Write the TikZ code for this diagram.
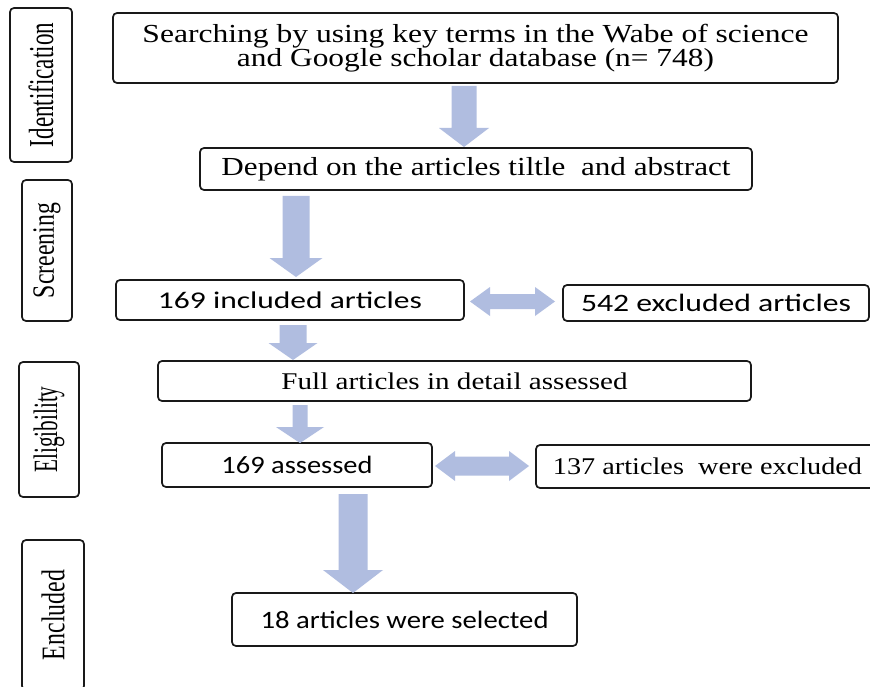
\documentclass[tikz,border=0pt]{standalone}
\usepackage{fontspec}
\usepackage{graphicx}
\setmainfont{Liberation Serif}
\newfontfamily\calib{Carlito}
\usetikzlibrary{calc}
\definecolor{arrowblue}{RGB}{176,189,224}
\newcommand{\fitw}[2]{\resizebox{#1}{\height}{#2}}
\newcommand{\fs}[1]{\fontsize{#1}{#1}\selectfont}
\tikzset{
  box/.style={draw=black!90, line width=1.7pt, rounded corners=4pt, inner sep=0pt, outer sep=0pt, anchor=north west, align=center},
  sidebox/.style={box, rotate=90, anchor=center},
  blkarrow/.style={fill=arrowblue, draw=none}
}
% down block arrow: #1 from node, #2 to node, #3 x, #4 shaft half width, #5 head half width, #6 head length, #7 top gap, #8 tip gap
\newcommand{\blkdown}[8]{%
  \fill[blkarrow] let \p1=(#1.south), \p2=(#2.north) in
   ({#3pt-#4pt},{\y1-#7pt}) -- ({#3pt+#4pt},{\y1-#7pt}) -- ({#3pt+#4pt},{\y2+#8pt+#6pt})
   -- ({#3pt+#5pt},{\y2+#8pt+#6pt}) -- ({#3pt},{\y2+#8pt}) -- ({#3pt-#5pt},{\y2+#8pt+#6pt})
   -- ({#3pt-#4pt},{\y2+#8pt+#6pt}) -- cycle;}
% double block arrow: #1 left node, #2 right node, #3 y, #4 shaft hw, #5 head hw, #6 head len, #7 left gap, #8 right gap
\newcommand{\blkdouble}[8]{%
  \fill[blkarrow] let \p1=(#1.east), \p2=(#2.west) in
   ({\x1+#7pt},{-#3pt}) -- ({\x1+#7pt+#6pt},{-#3pt+#5pt}) -- ({\x1+#7pt+#6pt},{-#3pt+#4pt})
   -- ({\x2-#8pt-#6pt},{-#3pt+#4pt}) -- ({\x2-#8pt-#6pt},{-#3pt+#5pt}) -- ({\x2-#8pt},{-#3pt})
   -- ({\x2-#8pt-#6pt},{-#3pt-#5pt}) -- ({\x2-#8pt-#6pt},{-#3pt-#4pt})
   -- ({\x1+#7pt+#6pt},{-#3pt-#4pt}) -- ({\x1+#7pt+#6pt},{-#3pt-#5pt}) -- cycle;}
\begin{document}
\begin{tikzpicture}[x=1pt,y=-1pt]
\useasboundingbox[fill=white] (0,0) rectangle (870,687);
% side labels
\node[sidebox, minimum width=154pt, minimum height=62pt] (ident) at (41,85)
  {\fs{35}\fitw{124pt}{Identification}};
\node[sidebox, minimum width=141pt, minimum height=50pt] (screen) at (47,250.5)
  {\fs{31}\fitw{95pt}{Screening}};
\node[sidebox, minimum width=135pt, minimum height=60pt] (elig) at (49,429.5)
  {\fs{34}\fitw{86pt}{Eligibility}};
\node[sidebox, minimum width=150pt, minimum height=62pt] (incl) at (53,615)
  {\fs{33}\fitw{90pt}{Encluded}};
% main boxes
\node[box, minimum width=725pt, minimum height=70pt] (search) at (113,13)
  {\fs{26}\fitw{666pt}{Searching by using key terms in the Wabe of science}\\[-1pt]
   \fs{26}\fitw{477pt}{and Google scholar database (n= 748)}};
\node[box, minimum width=552pt, minimum height=42pt] (depend) at (200,148)
  {\fs{26}\fitw{509pt}{Depend on the articles tiltle\ \ and abstract}};
\node[box, minimum width=348pt, minimum height=40pt] (inc169) at (116,280)
  {\calib\fs{24}\fitw{264pt}{169 included articles}};
\node[box, minimum width=306pt, minimum height=36pt] (exc542) at (563,285)
  {\calib\fs{25}\fitw{270pt}{542 excluded articles}};
\node[box, minimum width=593pt, minimum height=40pt] (full) at (158,361)
  {\fs{24}\fitw{346pt}{Full articles in detail assessed}};
\node[box, minimum width=270pt, minimum height=44pt] (ass169) at (162,443)
  {\calib\fs{25}\fitw{151pt}{169 assessed}};
\node[box, minimum width=343pt, minimum height=43pt] (exc137) at (536,445)
  {\fs{24}\fitw{309pt}{137 articles\ \ were excluded}};
\node[box, minimum width=345pt, minimum height=53pt] (sel18) at (232,593)
  {\calib\fs{25}\fitw{288pt}{18 articles were selected}};
% block arrows
\blkdown{search}{depend}{464}{12.5}{25}{19}{3}{1}
\blkdown{depend}{inc169}{296}{13.5}{26.5}{19}{6}{3}
\blkdown{inc169}{full}{293}{13.5}{24.5}{17}{5}{1}
\blkdown{full}{ass169}{300}{7.5}{24}{16}{4}{0}
\blkdown{ass169}{sel18}{353}{14.5}{30}{23}{7}{0}
\blkdouble{inc169}{exc542}{301.5}{7.5}{14.5}{20}{6}{8}
\blkdouble{ass169}{exc137}{466}{9.5}{15}{20}{3}{7}
\end{tikzpicture}
\end{document}
